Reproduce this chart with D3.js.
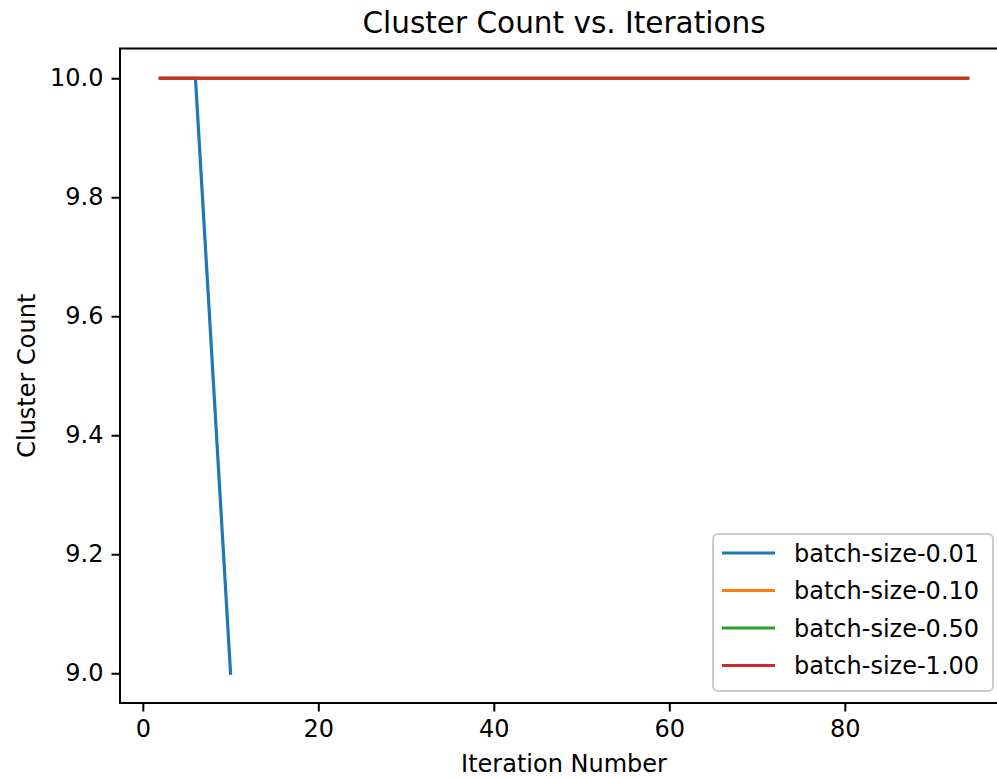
<!DOCTYPE html>
<html>
<head>
<meta charset="utf-8">
<script src="https://cdn.jsdelivr.net/npm/d3@7"></script>
<style>
  html, body { margin: 0; padding: 0; background: #fff; }
  svg { display: block; font-family: "DejaVu Sans", sans-serif; }
</style>
</head>
<body>
<div id="chart"></div>
<script>
// Iteration numbers at which the cluster count was recorded
const iterations = [2, 6, 10, 14, 18, 22, 26, 30, 34, 38, 42, 46, 50, 54, 58, 62, 66, 70, 74, 78, 82, 86, 90, 94];
const iterationsSmall = [2, 6, 10];

// Cluster count per run
const batch001 = [10, 10, 9];
const batch010 = [10, 10, 10, 10, 10, 10, 10, 10, 10, 10, 10, 10, 10, 10, 10, 10, 10, 10, 10, 10, 10, 10, 10, 10];
const batch050 = [10, 10, 10, 10, 10, 10, 10, 10, 10, 10, 10, 10, 10, 10, 10, 10, 10, 10, 10, 10, 10, 10, 10, 10];
const batch100 = [10, 10, 10, 10, 10, 10, 10, 10, 10, 10, 10, 10, 10, 10, 10, 10, 10, 10, 10, 10, 10, 10, 10, 10];

const seriesNames = ["batch-size-0.01", "batch-size-0.10", "batch-size-0.50", "batch-size-1.00"];
const seriesColors = ["#1f77b4", "#ff7f0e", "#2ca02c", "#d62728"];

const xTicks = [0, 20, 40, 60, 80];
const yTicks = [9.0, 9.2, 9.4, 9.6, 9.8, 10.0];

(function draw() {
  const series = [
    { name: seriesNames[0], color: seriesColors[0], xs: iterationsSmall, ys: batch001 },
    { name: seriesNames[1], color: seriesColors[1], xs: iterations, ys: batch010 },
    { name: seriesNames[2], color: seriesColors[2], xs: iterations, ys: batch050 },
    { name: seriesNames[3], color: seriesColors[3], xs: iterations, ys: batch100 }
  ];

  const W = 997, H = 778;
  const plotLeft = 120, plotRight = 1008, plotTop = 48.5, plotBottom = 703;

  const svg = d3.select("#chart").append("svg").attr("width", W).attr("height", H);

  // matplotlib-style 5% padding around the data range
  const xMin = 2, xMax = 94, yMin = 9, yMax = 10;
  const xPad = (xMax - xMin) * 0.05, yPad = (yMax - yMin) * 0.05;
  const x = d3.scaleLinear().domain([xMin - xPad, xMax + xPad]).range([plotLeft, plotRight]);
  const y = d3.scaleLinear().domain([yMin - yPad, yMax + yPad]).range([plotBottom, plotTop]);

  const fontSize = 24;

  // Lines
  const line = d3.line().x(d => x(d[0])).y(d => y(d[1]));
  series.forEach(s => {
    svg.append("path")
      .datum(s.xs.map((v, i) => [v, s.ys[i]]))
      .attr("d", line)
      .attr("fill", "none")
      .attr("stroke", s.color)
      .attr("stroke-width", 3.2)
      .attr("stroke-linecap", "square");
  });

  // Axes
  const xAxis = d3.axisBottom(x).tickValues(xTicks).tickFormat(d3.format("d")).tickSizeOuter(0).tickSize(8.5).tickPadding(8);
  const yAxis = d3.axisLeft(y).tickValues(yTicks).tickFormat(d3.format(".1f")).tickSizeOuter(0).tickSize(8.5).tickPadding(8);

  const gx = svg.append("g").attr("transform", `translate(0,${plotBottom})`).call(xAxis);
  const gy = svg.append("g").attr("transform", `translate(${plotLeft},0)`).call(yAxis);
  [gx, gy].forEach(g => {
    g.select(".domain").remove();
    g.selectAll(".tick line").attr("stroke", "#000").attr("stroke-width", 2);
    g.selectAll(".tick text").attr("fill", "#000").attr("font-size", fontSize)
      .attr("font-family", "DejaVu Sans, sans-serif");
  });

  // Spines
  svg.append("rect")
    .attr("x", plotLeft).attr("y", plotTop)
    .attr("width", plotRight - plotLeft).attr("height", plotBottom - plotTop)
    .attr("fill", "none").attr("stroke", "#000").attr("stroke-width", 2);

  // Title and axis labels
  svg.append("text")
    .attr("x", (plotLeft + plotRight) / 2).attr("y", 33)
    .attr("text-anchor", "middle").attr("font-size", 29.5).attr("fill", "#000")
    .text("Cluster Count vs. Iterations");

  svg.append("text")
    .attr("x", (plotLeft + plotRight) / 2).attr("y", 772)
    .attr("text-anchor", "middle").attr("font-size", fontSize).attr("fill", "#000")
    .text("Iteration Number");

  svg.append("text")
    .attr("transform", `translate(35,${(plotTop + plotBottom) / 2}) rotate(-90)`)
    .attr("text-anchor", "middle").attr("font-size", fontSize).attr("fill", "#000")
    .text("Cluster Count");

  // Legend
  const lg = svg.append("g").attr("transform", "translate(713,534)");
  lg.append("rect")
    .attr("width", 280).attr("height", 157).attr("rx", 5)
    .attr("fill", "#fff").attr("fill-opacity", 0.8)
    .attr("stroke", "#ccc").attr("stroke-width", 2);
  series.forEach((s, i) => {
    const cy = 19 + i * 37.5;
    lg.append("line").attr("x1", 9).attr("x2", 62).attr("y1", cy).attr("y2", cy)
      .attr("stroke", s.color).attr("stroke-width", 3.2);
    lg.append("text").attr("x", 81).attr("y", cy).attr("dy", "0.36em")
      .attr("font-size", fontSize).attr("fill", "#000").text(s.name);
  });
})();
</script>
</body>
</html>
